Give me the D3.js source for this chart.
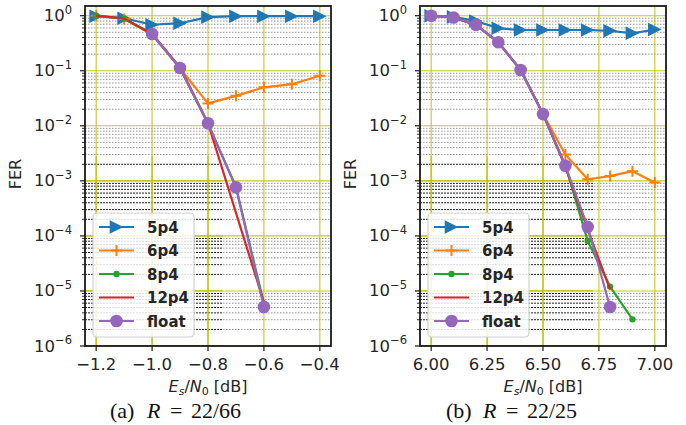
<!DOCTYPE html>
<html><head><meta charset="utf-8">
<script src="https://cdn.jsdelivr.net/npm/d3@7"></script>
<style>body{margin:0;background:#fff}svg{display:block}</style>
</head><body>
<script>
// ---------- data ----------
const seriesNames = ["5p4", "6p4", "8p4", "12p4", "float"];
const seriesColors = ["#1f77b4", "#ff7f0e", "#2ca02c", "#d62728", "#9467bd"];
const seriesMarkers = ["tri", "plus", "dot", "none", "circle"];

// panel (a) R = 22/66
const aX5p4 = [-1.2, -1.1, -1.0, -0.9, -0.8, -0.7, -0.6, -0.5, -0.4];
const aY5p4 = [0.98, 0.90, 0.685, 0.73, 0.94, 0.98, 0.98, 0.98, 0.98];
const aX6p4 = [-1.2, -1.1, -1.0, -0.9, -0.8, -0.7, -0.6, -0.5, -0.4];
const aY6p4 = [1.0, 0.87, 0.46, 0.11, 0.0255, 0.035, 0.050, 0.057, 0.081];
const aX8p4 = [-1.2, -1.1, -1.0, -0.9, -0.8, -0.7, -0.6];
const aY8p4 = [1.0, 0.88, 0.46, 0.112, 0.0108, 7.8e-4, 5.9e-6];
const aX12p4 = [-1.2, -1.1, -1.0, -0.9, -0.8, -0.6];
const aY12p4 = [1.0, 0.89, 0.47, 0.115, 0.0112, 6.2e-6];
const aXfloat = [-1.0, -0.9, -0.8, -0.7, -0.6];
const aYfloat = [0.465, 0.112, 0.0111, 7.6e-4, 5.1e-6];
const aXTicks = [-1.2, -1.0, -0.8, -0.6, -0.4];
const aXTickLabels = ["\u22121.2", "\u22121.0", "\u22120.8", "\u22120.6", "\u22120.4"];
const aXDomain = [-1.24, -0.36];

// panel (b) R = 22/25
const bX5p4 = [6.0, 6.1, 6.2, 6.3, 6.4, 6.5, 6.6, 6.7, 6.8, 6.9, 7.0];
const bY5p4 = [1.0, 0.95, 0.80, 0.59, 0.55, 0.55, 0.55, 0.55, 0.53, 0.48, 0.56];
const bX6p4 = [6.0, 6.1, 6.2, 6.3, 6.4, 6.5, 6.6, 6.7, 6.8, 6.9, 7.0];
const bY6p4 = [1.0, 0.93, 0.68, 0.33, 0.103, 0.0163, 0.0030, 0.00107, 0.00122, 0.0015, 0.00093];
const bX8p4 = [6.0, 6.1, 6.2, 6.3, 6.4, 6.5, 6.6, 6.7, 6.8, 6.9];
const bY8p4 = [1.0, 0.93, 0.68, 0.33, 0.103, 0.0163, 0.0019, 8.1e-5, 1.2e-5, 3.05e-6];
const bX12p4 = [6.0, 6.1, 6.2, 6.3, 6.4, 6.5, 6.6, 6.7, 6.8];
const bY12p4 = [1.0, 0.93, 0.68, 0.33, 0.103, 0.0163, 0.0018, 1.3e-4, 1.07e-5];
const bXfloat = [6.0, 6.1, 6.2, 6.3, 6.4, 6.5, 6.6, 6.7, 6.8];
const bYfloat = [1.0, 0.93, 0.68, 0.33, 0.103, 0.0163, 0.00188, 1.46e-4, 5.1e-6];
const bXTicks = [6.0, 6.25, 6.5, 6.75, 7.0];
const bXTickLabels = ["6.00", "6.25", "6.50", "6.75", "7.00"];
const bXDomain = [5.95, 7.05];

const yDomain = [1e-6, 1.5];
const yTickExps = [0, -1, -2, -3, -4, -5, -6];
const yLabel = "FER";
const captionA = ["(a)", "R", "=", "22/66"];
const captionB = ["(b)", "R", "=", "22/25"];

// ---------- drawing ----------
const W = 686, H = 425;
const svg = d3.select("body").append("svg").attr("width", W).attr("height", H);
const font = "'DejaVu Sans', sans-serif";
const serif = "'Liberation Serif', 'DejaVu Serif', serif";

function panel(cfg) {
  const {x0, x1, y0, y1, xDomain, xTicks, xTickLabels, series, caption, capX, dark} = cfg;
  const x = d3.scaleLinear().domain(xDomain).range([x0, x1]);
  const y = d3.scaleLog().domain(yDomain).range([y1, y0]);
  const g = svg.append("g");
  const clipId = "clip" + x0;
  svg.append("clipPath").attr("id", clipId).append("rect")
    .attr("x", x0).attr("y", y0).attr("width", x1 - x0).attr("height", y1 - y0);
  const darkId = "dark" + x0;
  svg.append("clipPath").attr("id", darkId).append("rect")
    .attr("x", x0).attr("y", dark.yTop).attr("width", dark.xRight - x0).attr("height", y1 - dark.yTop);

  const minorVals = [];
  for (let e = -6; e <= 0; e++) for (let k = 2; k <= 9; k++) {
    const v = k * Math.pow(10, e);
    if (v < yDomain[1]) minorVals.push(v);
  }
  const majorVals = yTickExps.map(e => Math.pow(10, e));

  function drawGrid(layer, minorStroke, minorDash, minorW, majorW) {
    layer.selectAll("line.minor").data(minorVals).join("line").attr("class", "minor")
      .attr("x1", x0).attr("x2", x1).attr("y1", d => y(d)).attr("y2", d => y(d))
      .attr("stroke", minorStroke).attr("stroke-width", minorW).attr("stroke-dasharray", minorDash);
    layer.selectAll("line.majy").data(majorVals).join("line").attr("class", "majy")
      .attr("x1", x0).attr("x2", x1).attr("y1", d => y(d)).attr("y2", d => y(d))
      .attr("stroke", "#bfbf00").attr("stroke-width", majorW).attr("opacity", 0.85);
    layer.selectAll("line.majx").data(xTicks).join("line").attr("class", "majx")
      .attr("x1", d => x(d)).attr("x2", d => x(d)).attr("y1", y0).attr("y2", y1)
      .attr("stroke", "#bfbf00").attr("stroke-width", majorW).attr("opacity", 0.85);
  }
  const grid = g.append("g").attr("clip-path", `url(#${clipId})`);
  drawGrid(grid, "#8a8a8a", "1.5,1.5", 0.9, 1.1);
  const grid2 = g.append("g").attr("clip-path", `url(#${darkId})`);
  grid2.append("rect").attr("x", x0).attr("y", dark.yTop).attr("width", dark.xRight - x0).attr("height", y1 - dark.yTop).attr("fill", "#fff");
  drawGrid(grid2, "#222", "2,1", 1.0, 1.8);

  // series
  const plot = g.append("g").attr("clip-path", `url(#${clipId})`);
  const line = d3.line().x(d => x(d[0])).y(d => y(d[1]));
  series.forEach((s, i) => {
    const pts = s.xs.map((v, j) => [v, s.ys[j]]);
    const col = seriesColors[i];
    const sg = plot.append("g");
    sg.append("path").datum(pts).attr("d", line).attr("fill", "none")
      .attr("stroke", col).attr("stroke-width", 2.2).attr("stroke-linejoin", "round");
    drawMarkers(sg, pts.map(p => [x(p[0]), y(p[1])]), seriesMarkers[i], col);
  });

  // spines
  g.append("rect").attr("x", x0).attr("y", y0).attr("width", x1 - x0).attr("height", y1 - y0)
    .attr("fill", "none").attr("stroke", "#1a1a1a").attr("stroke-width", 1.8);

  // y ticks
  g.selectAll("line.ytM").data(majorVals).join("line")
    .attr("x1", x0 - 5).attr("x2", x0).attr("y1", d => y(d)).attr("y2", d => y(d))
    .attr("stroke", "#1a1a1a").attr("stroke-width", 1.2);
  g.selectAll("line.ytm").data(minorVals).join("line")
    .attr("x1", x0 - 3).attr("x2", x0).attr("y1", d => y(d)).attr("y2", d => y(d))
    .attr("stroke", "#1a1a1a").attr("stroke-width", 0.9);
  yTickExps.forEach(e => {
    const t = g.append("text").attr("x", x0 - 13).attr("y", y(Math.pow(10, e)) + 5.5)
      .attr("text-anchor", "end").attr("font-family", font).attr("font-size", 16.5).attr("fill", "#262626");
    t.append("tspan").text("10");
    t.append("tspan").attr("dy", -7.5).attr("font-size", 11.5).text(e === 0 ? "0" : "\u2212" + Math.abs(e));
  });
  // x ticks
  g.selectAll("line.xt").data(xTicks).join("line")
    .attr("x1", d => x(d)).attr("x2", d => x(d)).attr("y1", y1).attr("y2", y1 + 5)
    .attr("stroke", "#1a1a1a").attr("stroke-width", 1.2);
  g.selectAll("text.xt").data(xTicks).join("text")
    .attr("x", d => x(d)).attr("y", y1 + 24).attr("text-anchor", "middle")
    .attr("font-family", font).attr("font-size", 16.5).attr("fill", "#262626")
    .text((d, i) => xTickLabels[i]);

  // axis labels
  const xl = g.append("text").attr("x", (x0 + x1) / 2).attr("y", y1 + 46).attr("text-anchor", "middle")
    .attr("font-family", font).attr("font-size", 16).attr("fill", "#262626");
  xl.append("tspan").attr("font-style", "italic").text("E");
  xl.append("tspan").attr("font-style", "italic").attr("font-size", 11).attr("dy", 3).text("s");
  xl.append("tspan").attr("dy", -3).text("/");
  xl.append("tspan").attr("font-style", "italic").text("N");
  xl.append("tspan").attr("font-size", 11).attr("dy", 3).text("0");
  xl.append("tspan").attr("dy", -3).text("\u00a0[dB]");

  g.append("text").attr("transform", `translate(${x0 - 64},${(y0 + y1) / 2 - 2}) rotate(-90)`)
    .attr("text-anchor", "middle").attr("font-family", font).attr("font-size", 16).attr("fill", "#262626")
    .text(yLabel);

  // caption
  const capY = 418;
  const capParts = [[caption[0], 0, "normal"], [caption[1], 37, "italic"], [caption[2], 60, "normal"], [caption[3], 81, "normal"]];
  capParts.forEach(([txt, dx, st]) => {
    g.append("text").attr("x", capX - 70 + dx).attr("y", capY)
      .attr("font-family", serif).attr("font-size", 22).attr("font-style", st).attr("fill", "#111").text(txt);
  });

  // legend
  const lx = cfg.legX, ly = 213, lw = 101, lh = 124;
  const lg = g.append("g");
  lg.append("rect").attr("x", lx).attr("y", ly).attr("width", lw).attr("height", lh).attr("rx", 4)
    .attr("fill", "#fff").attr("fill-opacity", 0.85).attr("stroke", "#d0d0d0").attr("stroke-width", 1.2);
  seriesNames.forEach((name, i) => {
    const cy = ly + 14 + i * 23.5;
    const hx0 = lx + 6, hx1 = lx + 41;
    lg.append("line").attr("x1", hx0).attr("x2", hx1).attr("y1", cy).attr("y2", cy)
      .attr("stroke", seriesColors[i]).attr("stroke-width", 2.2);
    drawMarkers(lg, [[(hx0 + hx1) / 2, cy]], seriesMarkers[i], seriesColors[i]);
    lg.append("text").attr("x", lx + 54).attr("y", cy + 5.5).attr("font-family", font)
      .attr("font-size", 15).attr("font-weight", "bold").attr("fill", "#262626").text(name);
  });
}

function drawMarkers(sel, pts, type, col) {
  pts.forEach(([px, py]) => {
    if (type === "tri") {
      const s = 6.8;
      sel.append("path").attr("d", `M${px - s},${py - s}L${px + s},${py}L${px - s},${py + s}Z`).attr("fill", col);
    } else if (type === "plus") {
      const s = 5.5;
      sel.append("path").attr("d", `M${px - s},${py}H${px + s}M${px},${py - s}V${py + s}`)
        .attr("stroke", col).attr("stroke-width", 2);
    } else if (type === "dot") {
      sel.append("circle").attr("cx", px).attr("cy", py).attr("r", 3.2).attr("fill", col);
    } else if (type === "circle") {
      sel.append("circle").attr("cx", px).attr("cy", py).attr("r", 6.3).attr("fill", col);
    }
  });
}

panel({
  x0: 85, x1: 331, y0: 6, y1: 346, xDomain: aXDomain, xTicks: aXTicks, xTickLabels: aXTickLabels,
  series: [{xs: aX5p4, ys: aY5p4}, {xs: aX6p4, ys: aY6p4}, {xs: aX8p4, ys: aY8p4}, {xs: aX12p4, ys: aY12p4}, {xs: aXfloat, ys: aYfloat}],
  caption: captionA, capX: 180, legX: 93, dark: {yTop: 156, xRight: 223}
});
panel({
  x0: 420, x1: 666, y0: 6, y1: 346, xDomain: bXDomain, xTicks: bXTicks, xTickLabels: bXTickLabels,
  series: [{xs: bX5p4, ys: bY5p4}, {xs: bX6p4, ys: bY6p4}, {xs: bX8p4, ys: bY8p4}, {xs: bX12p4, ys: bY12p4}, {xs: bXfloat, ys: bYfloat}],
  caption: captionB, capX: 516, legX: 428, dark: {yTop: 156, xRight: 593}
});
</script>
</body></html>
